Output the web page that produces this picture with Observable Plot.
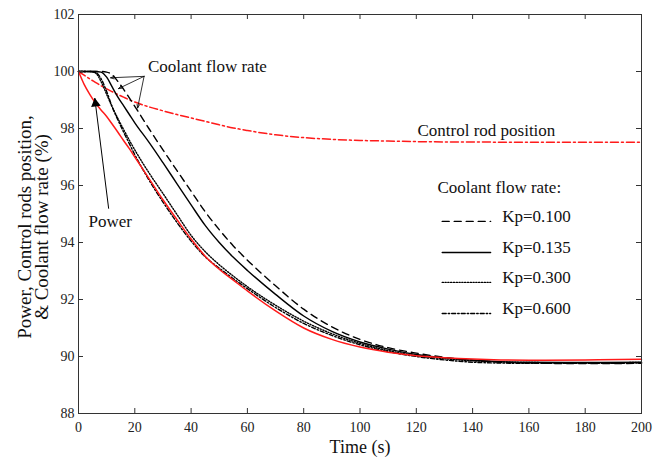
<!DOCTYPE html>
<html><head><meta charset="utf-8">
<script src="https://cdn.jsdelivr.net/npm/d3@7"></script>
<script src="https://cdn.jsdelivr.net/npm/@observablehq/plot@0.6"></script>
<style>body{margin:0;background:#fff}#chart svg{display:block}</style>
</head><body><div id="chart"></div>
<script>
// ---- data ----
const time = [0,2,4,6,8,10,12,14,16,18,20,25,30,35,40,45,50,55,60,70,80,90,100,110,120,130,140,150,160,180,200];
const power = [100,99.55,99.2,98.9,98.65,98.42,98.15,97.87,97.58,97.3,97.0,96.25,95.5,94.8,94.12,93.52,93.06,92.68,92.3,91.6,91.0,90.6,90.33,90.15,90.03,89.96,89.91,89.88,89.87,89.88,89.9];
const rodPosition = [100,99.87,99.74,99.62,99.5,99.39,99.29,99.19,99.1,99.01,98.93,98.76,98.62,98.49,98.37,98.25,98.13,98.02,97.93,97.78,97.68,97.62,97.58,97.56,97.54,97.53,97.53,97.52,97.52,97.52,97.52];
const kp0100 = [100,100,100,100,100,99.98,99.88,99.65,99.38,99.08,98.78,98.0,97.25,96.52,95.8,95.08,94.45,93.88,93.38,92.48,91.66,91.04,90.6,90.31,90.12,89.97,89.87,89.8,89.77,89.75,89.76];
const kp0135 = [100,100,100,100,99.98,99.8,99.45,99.1,98.8,98.5,98.2,97.52,96.8,96.06,95.32,94.6,94.0,93.48,93.02,92.18,91.42,90.88,90.51,90.26,90.07,89.95,89.87,89.82,89.8,89.79,89.8];
const kp0300 = [100,100,100,99.95,99.65,99.2,98.75,98.35,97.97,97.6,97.25,96.45,95.72,94.98,94.25,93.68,93.22,92.82,92.45,91.8,91.24,90.8,90.46,90.21,90.03,89.92,89.85,89.81,89.79,89.78,89.79];
const kp0600 = [100,100,100,99.97,99.75,99.3,98.75,98.3,97.88,97.48,97.08,96.2,95.42,94.7,94.05,93.5,93.1,92.73,92.38,91.72,91.16,90.74,90.41,90.17,90.0,89.88,89.8,89.77,89.76,89.76,89.77];
const kpLabels = ["Kp=0.100","Kp=0.135","Kp=0.300","Kp=0.600"];
const xTicks = [0,20,40,60,80,100,120,140,160,180,200];
const yTicks = [88,90,92,94,96,98,100,102];

// ---- layout / style ----
const W = 655, H = 462;
const M = {top: 14, right: 14, bottom: 49, left: 78};
const PW = W - M.left - M.right, PH = H - M.top - M.bottom;
const FONT = "'Liberation Serif', 'Times New Roman', serif";
const RED = "#ff1a1a";
const dashes = ["7,5", null, "1.2,1.6", "4,2,1.5,2"];
const kpSeries = [kp0100, kp0135, kp0300, kp0600];
const xDomain = [0, 200], yDomain = [88, 102];

const rowsOf = (vals) => time.map((t, i) => ({t, v: vals[i]}));

// annotation placement in data units
const legendRowsY = [94.74, 93.65, 92.6, 91.51];
const legendLineX = [129.2, 146.4];
const legendTextX = 150.5;
const legendTitle = {t: 127.5, v: 95.92, text: "Coolant flow rate:"};
const notes = [
  {t: 45.8, v: 100.16, text: "Coolant flow rate"},
  {t: 144.9, v: 97.93, text: "Control rod position"},
  {t: 11.3, v: 94.74, text: "Power"}
];
const coolantArrows = [
  {x1: 23.3, y1: 99.83, x2: 11.4, y2: 99.78},
  {x1: 23.3, y1: 99.83, x2: 14.2, y2: 99.4},
  {x1: 23.3, y1: 99.83, x2: 21.0, y2: 98.72}
];
const powerArrow = [{x1: 10.7, y1: 95.2, x2: 5.8, y2: 99.05}];
const xLabel = [{t: 100, v: 88, text: "Time (s)"}];
const yLabel = [{t: 0, v: 95, text: "Power, Control rods position,\n& Coolant flow rate (%)"}];

const marks = [];
// curves
marks.push(Plot.line(rowsOf(rodPosition), {x: "t", y: "v", stroke: RED, strokeWidth: 1.5, strokeDasharray: "8,3,2,3", curve: "monotone-x"}));
kpSeries.forEach((vals, i) => {
  marks.push(Plot.line(rowsOf(vals), {x: "t", y: "v", stroke: "#000", strokeWidth: 1.4, strokeDasharray: dashes[i], curve: "monotone-x"}));
});
marks.push(Plot.line(rowsOf(power), {x: "t", y: "v", stroke: RED, strokeWidth: 1.5, curve: "monotone-x"}));

// legend
kpLabels.forEach((lab, i) => {
  marks.push(Plot.line([{t: legendLineX[0], v: legendRowsY[i]}, {t: legendLineX[1], v: legendRowsY[i]}], {x: "t", y: "v", stroke: "#000", strokeWidth: 1.4, strokeDasharray: dashes[i]}));
});
marks.push(Plot.text(kpLabels, {x: () => legendTextX, y: (d, i) => legendRowsY[i], text: d => d, textAnchor: "start", dy: -5, fontSize: 17, fill: "#111"}));
marks.push(Plot.text([legendTitle], {x: "t", y: "v", text: "text", textAnchor: "start", fontSize: 17, fill: "#111"}));

// annotations
marks.push(Plot.text(notes, {x: "t", y: "v", text: "text", fontSize: 17, fill: "#111"}));
marks.push(Plot.arrow(coolantArrows, {x1: "x1", y1: "y1", x2: "x2", y2: "y2", stroke: "#000", strokeWidth: 0.8, headLength: 7, headAngle: 40}));
marks.push(Plot.arrow(powerArrow, {x1: "x1", y1: "y1", x2: "x2", y2: "y2", stroke: "#000", strokeWidth: 1, headLength: 10, headAngle: 30}));
marks.push(Plot.dot(powerArrow, {x: "x2", y: "y2", symbol: "triangle", r: 3.6, fill: "#000", stroke: "none", dy: 5, dx: 0.7, rotate: -8}));

// frame & inward ticks
marks.push(Plot.frame({stroke: "#333", strokeWidth: 1}));
marks.push(Plot.tickX(xTicks, {x: d => d, insetTop: PH - 5, stroke: "#333"}));
marks.push(Plot.tickX(xTicks, {x: d => d, insetBottom: PH - 5, stroke: "#333"}));
marks.push(Plot.tickY(yTicks, {y: d => d, insetRight: PW - 5, stroke: "#333"}));
marks.push(Plot.tickY(yTicks, {y: d => d, insetLeft: PW - 5, stroke: "#333"}));

// axes labels
marks.push(Plot.axisX({ticks: xTicks, tickSize: 0, tickPadding: 9, label: null, fill: "#222"}));
marks.push(Plot.axisY({ticks: yTicks, tickSize: 0, tickPadding: 4, label: null, fill: "#222"}));
marks.push(Plot.text(xLabel, {x: "t", y: "v", text: "text", textAnchor: "middle", lineAnchor: "middle", dy: 34, fontSize: 18, fill: "#111"}));
marks.push(Plot.text(yLabel, {x: "t", y: "v", text: "text", textAnchor: "middle", lineAnchor: "middle", dx: -44.5, dy: 13, rotate: -90, fontSize: 19, lineHeight: 0.92, fill: "#111"}));

const chart = Plot.plot({
  width: W, height: H,
  marginTop: M.top, marginRight: M.right, marginBottom: M.bottom, marginLeft: M.left,
  x: {domain: xDomain},
  y: {domain: yDomain},
  style: {fontFamily: FONT, fontSize: "14px", background: "#fff", color: "#222"},
  marks
});
document.getElementById("chart").appendChild(chart);
</script>
</body></html>
